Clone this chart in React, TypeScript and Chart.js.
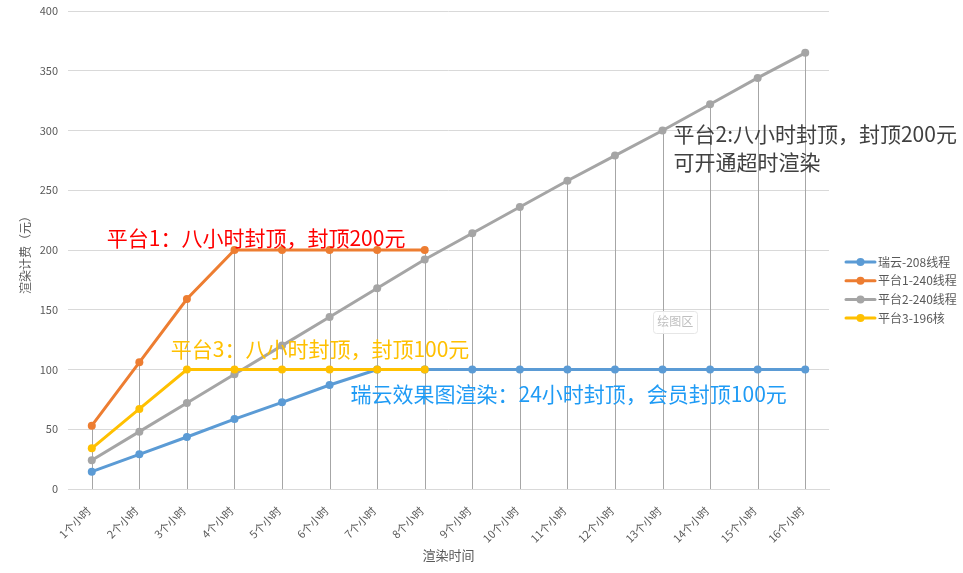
import React, { useEffect, useRef } from "react";
import { Chart, registerables } from "chart.js";

Chart.register(...registerables);

const FONT = '"Noto Sans CJK SC", "Microsoft YaHei", sans-serif';

const categories = [
  "1个小时", "2个小时", "3个小时", "4个小时", "5个小时", "6个小时", "7个小时", "8个小时",
  "9个小时", "10个小时", "11个小时", "12个小时", "13个小时", "14个小时", "15个小时", "16个小时",
];
const seriesNames = ["瑞云-208线程", "平台1-240线程", "平台2-240线程", "平台3-196核"];
const ruiyun = [14.5, 29, 43.5, 58.5, 72.5, 87, 100, 100, 100, 100, 100, 100, 100, 100, 100, 100];
const platform1 = [53, 106, 159, 200, 200, 200, 200, 200];
const platform2 = [24, 48, 72, 96, 120, 144, 168, 192, 214, 236, 258, 279, 300, 322, 344, 365];
const platform3 = [34, 67, 100, 100, 100, 100, 100, 100];
const seriesColors = ["#5b9bd5", "#ed7d31", "#a5a5a5", "#ffc000"];
const yMin = 0;
const yMax = 400;
const yStep = 50;
const xTitle = "渲染时间";
const yTitle = "渲染计费（元）";

const annotations = [
  { text: "平台1：八小时封顶，封顶200元", index: 0.315, value: 210, color: "#ff0000" },
  { text: "平台3：八小时封顶，封顶100元", index: 1.66, value: 117, color: "#ffc000" },
  { text: "瑞云效果图渲染：24小时封顶，会员封顶100元", index: 5.44, value: 79.5, color: "#1f9bf5" },
  { text: "平台2:八小时封顶，封顶200元", index: 12.23, value: 297, color: "#404040" },
  { text: "可开通超时渲染", index: 12.23, value: 273.6, color: "#404040" },
];
const hoverLabel = { text: "绘图区", index: 12.27, value: 140 };

const dropLinesPlugin = {
  id: "dropLines",
  beforeDatasetsDraw(chart: any) {
    const { ctx, scales } = chart;
    const xs = scales.x;
    const ys = scales.y;
    const all = [ruiyun, platform1, platform2, platform3];
    ctx.save();
    ctx.strokeStyle = "#a6a6a6";
    ctx.lineWidth = 1;
    for (let i = 0; i < categories.length; i++) {
      let m = -Infinity;
      all.forEach((s) => {
        if (s[i] !== undefined && s[i] > m) m = s[i];
      });
      if (m === -Infinity) continue;
      const x = Math.round(xs.getPixelForValue(i)) + 0.5;
      ctx.beginPath();
      ctx.moveTo(x, ys.getPixelForValue(m));
      ctx.lineTo(x, ys.getPixelForValue(0));
      ctx.stroke();
    }
    ctx.restore();
  },
};

const overlayPlugin = {
  id: "overlay",
  afterDraw(chart: any) {
    const { ctx, scales, chartArea } = chart;
    const xs = scales.x;
    const ys = scales.y;
    ctx.save();
    ctx.font = `21px ${FONT}`;
    ctx.textBaseline = "middle";
    ctx.textAlign = "left";
    annotations.forEach((a) => {
      ctx.fillStyle = a.color;
      ctx.fillText(a.text, xs.getPixelForValue(a.index), ys.getPixelForValue(a.value));
    });
    {
      const cx = xs.getPixelForValue(hoverLabel.index);
      const cy = ys.getPixelForValue(hoverLabel.value);
      ctx.font = `12px ${FONT}`;
      const w = ctx.measureText(hoverLabel.text).width + 8;
      const h = 22;
      ctx.fillStyle = "rgba(255,255,255,0.9)";
      ctx.strokeStyle = "#e6e6e6";
      ctx.lineWidth = 1;
      ctx.beginPath();
      (ctx as any).roundRect(Math.round(cx - w / 2) + 0.5, Math.round(cy - h / 2) + 0.5, w, h, 3);
      ctx.fill();
      ctx.stroke();
      ctx.fillStyle = "#bfbfbf";
      ctx.textAlign = "center";
      ctx.fillText(hoverLabel.text, cx, cy);
    }
    ctx.fillStyle = "#595959";
    ctx.font = `13px ${FONT}`;
    ctx.textAlign = "center";
    ctx.fillText(xTitle, (chartArea.left + chartArea.right) / 2, 555);
    ctx.save();
    ctx.font = `12px ${FONT}`;
    ctx.translate(25, (chartArea.top + chartArea.bottom) / 2 + 2);
    ctx.rotate(-Math.PI / 2);
    ctx.fillText(yTitle, 0, 0);
    ctx.restore();
    const lx = chartArea.right + 17;
    const ly0 = 262;
    const gap = 18.7;
    ctx.font = `12px ${FONT}`;
    ctx.textAlign = "left";
    seriesNames.forEach((name, i) => {
      const y = ly0 + i * gap;
      ctx.strokeStyle = seriesColors[i];
      ctx.lineWidth = 3;
      ctx.lineCap = "round";
      ctx.beginPath();
      ctx.moveTo(lx, y);
      ctx.lineTo(lx + 29, y);
      ctx.stroke();
      ctx.fillStyle = seriesColors[i];
      ctx.beginPath();
      ctx.arc(lx + 14.5, y, 4, 0, Math.PI * 2);
      ctx.fill();
      ctx.fillStyle = "#595959";
      ctx.fillText(name, lx + 32, y);
    });
    ctx.restore();
  },
};

export default function App() {
  const ref = useRef<HTMLCanvasElement | null>(null);
  useEffect(() => {
    if (!ref.current) return;
    const mk = (label: string, data: number[], color: string, order: number) => ({
      label,
      data,
      borderColor: color,
      backgroundColor: color,
      pointBackgroundColor: color,
      pointBorderColor: color,
      borderWidth: 3,
      pointRadius: 4,
      pointBorderWidth: 0,
      tension: 0,
      fill: false,
      order,
    });
    const chart = new Chart(ref.current, {
      type: "line",
      data: {
        labels: categories,
        datasets: [
          mk(seriesNames[0], ruiyun, seriesColors[0], 3),
          mk(seriesNames[1], platform1, seriesColors[1], 2),
          mk(seriesNames[2], platform2, seriesColors[2], 1),
          mk(seriesNames[3], platform3, seriesColors[3], 0),
        ],
      },
      options: {
        animation: false,
        responsive: false,
        layout: { padding: { top: 11, right: 134, left: 0, bottom: 0 } },
        plugins: {
          legend: { display: false },
          tooltip: { enabled: false },
        },
        scales: {
          x: {
            offset: true,
            grid: { display: false, drawTicks: false },
            border: { display: true, color: "#d9d9d9", width: 1 },
            ticks: {
              autoSkip: false,
              maxRotation: 45,
              minRotation: 45,
              color: "#595959",
              font: { size: 11, family: FONT },
              padding: 15,
              labelOffset: -3,
            },
            afterFit: (s: any) => {
              s.height = 84;
            },
          },
          y: {
            min: yMin,
            max: yMax,
            ticks: {
              stepSize: yStep,
              color: "#595959",
              font: { size: 11, family: FONT },
              padding: 10,
            },
            grid: { color: "#d9d9d9", drawTicks: false },
            border: { display: false },
            afterFit: (s: any) => {
              s.width = 68;
              s.paddingTop = 6;
              s.paddingBottom = 6;
            },
          },
        },
      },
      plugins: [dropLinesPlugin, overlayPlugin],
    } as any);
    return () => chart.destroy();
  }, []);
  return (
    <div style={{ position: "fixed", left: 0, top: 0, width: 963, height: 573, background: "#fff" }}>
      <canvas ref={ref} width={963} height={573} style={{ display: "block" }} />
    </div>
  );
}
